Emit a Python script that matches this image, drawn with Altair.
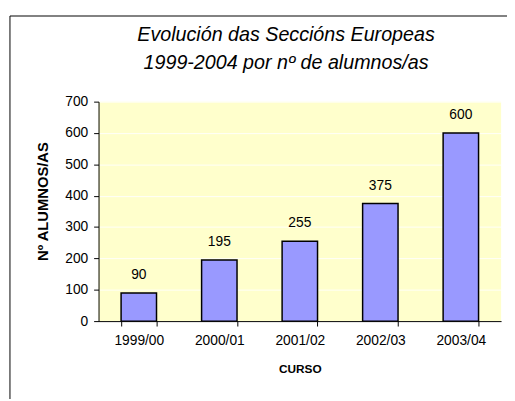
import altair as alt
import pandas as pd

cursos = ["1999/00", "2000/01", "2001/02", "2002/03", "2003/04"]
alumnos = [90, 195, 255, 375, 600]
y_ticks = [0, 100, 200, 300, 400, 500, 600, 700]
title_lines = ["Evolución das Seccións Europeas", "1999-2004 por nº de alumnos/as"]

df = pd.DataFrame({"curso": cursos, "alumnos": alumnos})
one = pd.DataFrame({"k": [0]})

FONT = "Liberation Sans"

x_enc = alt.X(
    "curso:N",
    sort=cursos,
    scale=alt.Scale(paddingInner=0.56, paddingOuter=0.28),
    axis=alt.Axis(
        title="CURSO",
        titleFont=FONT,
        titleFontSize=12,
        titleFontWeight="bold",
        titleColor="black",
        titleY=48,
        titleBaseline="middle",
        labelFont=FONT,
        labelFontSize=14,
        labelColor="black",
        labelAngle=0,
        labelPadding=8,
        tickBand="extent",
        tickSize=5,
        tickColor="black",
        domainColor="black",
        grid=False,
    ),
)

y_enc = alt.Y(
    "alumnos:Q",
    scale=alt.Scale(domain=[0, 700], nice=False),
    axis=alt.Axis(
        title="Nº ALUMNOS/AS",
        titleFont=FONT,
        titleFontSize=15,
        titleFontWeight="bold",
        titleColor="black",
        titleX=-57,
        titleY=101,
        titleAngle=-90,
        titleAlign="center",
        titleBaseline="middle",
        values=y_ticks,
        labelFont=FONT,
        labelFontSize=14,
        labelColor="black",
        labelPadding=6,
        labelOverlap=False,
        tickSize=5,
        tickColor="black",
        domainColor="black",
        gridColor="#ffffff",
        gridOpacity=0.9,
    ),
)

base = alt.Chart(df).encode(x=x_enc, y=y_enc)

bars = base.mark_bar(color="#9999FF", stroke="black", strokeWidth=1.5)

labels = base.mark_text(
    baseline="alphabetic", dy=-14, font=FONT, fontSize=14, color="black"
).encode(text="alumnos:Q")

frame = alt.Chart(one).mark_rect(
    fill="transparent", stroke="black", strokeWidth=1
).encode(
    x=alt.value(-90), x2=alt.value(600), y=alt.value(-87), y2=alt.value(600)
)

title = alt.Chart(one).mark_text(
    text=title_lines,
    font=FONT,
    fontSize=20,
    fontStyle="italic",
    color="black",
    align="center",
    baseline="alphabetic",
    lineHeight=29,
).encode(x=alt.value(190.5), y=alt.value(-62))

chart = (
    alt.layer(frame, title, bars, labels)
    .properties(
        width=409,
        height=223,
        background="white",
        padding={"left": 92, "top": 92, "right": 6, "bottom": 76},
        autosize=alt.AutoSizeParams(type="none"),
    )
    .configure_view(fill="#FFFFCC", stroke=None)
)

chart.save("out.html", embed_options={"renderer": "svg", "actions": False})
